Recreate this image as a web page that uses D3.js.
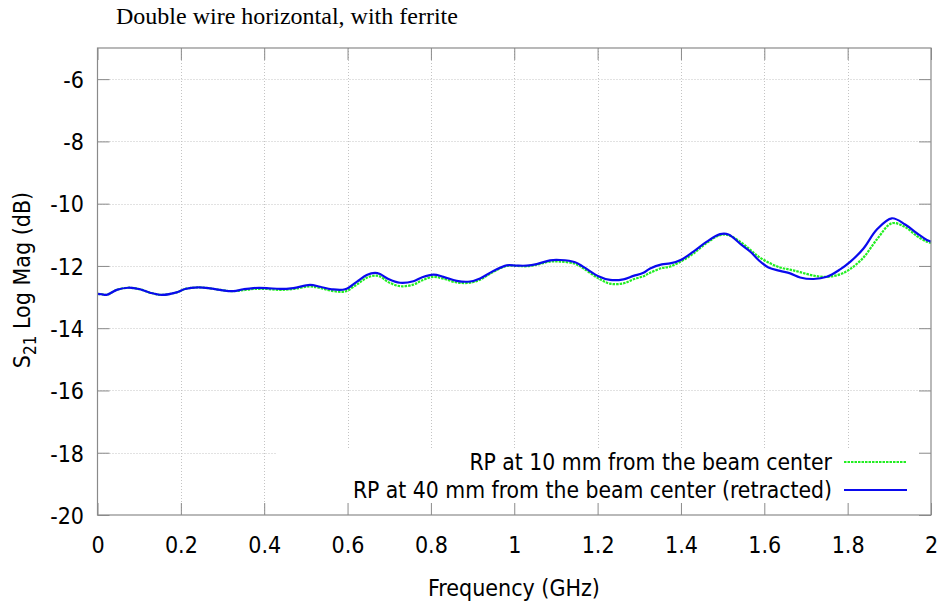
<!DOCTYPE html>
<html>
<head>
<meta charset="utf-8">
<script src="https://cdn.jsdelivr.net/npm/d3@7"></script>
<style>
  html, body { margin: 0; padding: 0; background: #fff; }
</style>
</head>
<body>
<svg id="chart" width="947" height="606" font-family="'DejaVu Sans Condensed', 'DejaVu Sans', sans-serif"></svg>
<script>
// Frequency points (GHz)
const freq = [0.000, 0.010, 0.022, 0.046, 0.074, 0.102, 0.126, 0.154, 0.190, 0.210,
  0.242, 0.270, 0.294, 0.326, 0.350, 0.374, 0.406, 0.438, 0.470, 0.510,
  0.534, 0.562, 0.594, 0.622, 0.646, 0.666, 0.678, 0.698, 0.726, 0.758,
  0.778, 0.806, 0.830, 0.862, 0.894, 0.918, 0.950, 0.982, 1.006, 1.030,
  1.054, 1.086, 1.110, 1.146, 1.166, 1.202, 1.230, 1.262, 1.286, 1.310,
  1.326, 1.354, 1.374, 1.402, 1.430, 1.462, 1.494, 1.514, 1.544, 1.568,
  1.586, 1.610, 1.638, 1.662, 1.686, 1.718, 1.750, 1.782, 1.806, 1.838,
  1.870, 1.906, 1.938, 1.966, 1.990, 2.000];

// S21 (dB), RP at 10 mm from the beam center
const s21At10mm = [-12.90, -12.91, -12.93, -12.77, -12.70, -12.75, -12.86, -12.93, -12.85, -12.74,
  -12.69, -12.72, -12.77, -12.81, -12.78, -12.74, -12.74, -12.77, -12.74, -12.66,
  -12.71, -12.80, -12.82, -12.60, -12.38, -12.31, -12.34, -12.52, -12.65, -12.60,
  -12.47, -12.35, -12.41, -12.53, -12.54, -12.44, -12.19, -12.00, -12.00, -12.01,
  -11.96, -11.86, -11.86, -11.93, -12.08, -12.40, -12.57, -12.56, -12.43, -12.33,
  -12.22, -12.07, -12.02, -11.84, -11.60, -11.26, -11.01, -11.01, -11.24, -11.50,
  -11.70, -11.89, -12.05, -12.12, -12.20, -12.31, -12.35, -12.27, -12.10, -11.73,
  -11.15, -10.63, -10.75, -11.04, -11.22, -11.26];

// S21 (dB), RP at 40 mm from the beam center (retracted)
const s21At40mm = [-12.90, -12.91, -12.93, -12.77, -12.70, -12.75, -12.86, -12.93, -12.85, -12.74,
  -12.69, -12.72, -12.77, -12.81, -12.75, -12.71, -12.71, -12.74, -12.71, -12.61,
  -12.67, -12.75, -12.75, -12.51, -12.29, -12.22, -12.26, -12.42, -12.54, -12.49,
  -12.37, -12.28, -12.35, -12.48, -12.50, -12.40, -12.16, -11.98, -11.99, -11.99,
  -11.94, -11.82, -11.81, -11.88, -12.03, -12.33, -12.45, -12.43, -12.32, -12.22,
  -12.08, -11.95, -11.92, -11.79, -11.54, -11.22, -10.98, -10.99, -11.31, -11.56,
  -11.81, -12.05, -12.16, -12.24, -12.37, -12.42, -12.35, -12.11, -11.87, -11.44,
  -10.83, -10.47, -10.67, -10.95, -11.17, -11.22];

const xTicks = [0, 0.2, 0.4, 0.6, 0.8, 1, 1.2, 1.4, 1.6, 1.8, 2];
const yTicks = [-20, -18, -16, -14, -12, -10, -8, -6];
const seriesNames = ["RP at 10 mm from the beam center",
                     "RP at 40 mm from the beam center (retracted)"];

const svg = d3.select("#chart");
const plotLeft = 97.5, plotRight = 931, plotTop = 48, plotBottom = 515;
const fontSize = 23;

const x = d3.scaleLinear().domain([0, 2]).range([plotLeft, plotRight]);
const y = d3.scaleLinear().domain([-20, -5]).range([plotBottom, plotTop]);

const borderColor = "#8a8a8a";
const gridColor = "#c4c4c4";
const fmt = d => String(d);   // plain hyphen for negatives

// Grid
const grid = svg.append("g");
grid.selectAll("line.gx").data(xTicks.slice(1, -1)).join("line")
  .attr("x1", d => Math.round(x(d)) + 0.5).attr("x2", d => Math.round(x(d)) + 0.5)
  .attr("y1", plotTop).attr("y2", plotBottom)
  .attr("stroke", gridColor).attr("stroke-width", 1).attr("stroke-dasharray", "1,2");
grid.selectAll("line.gy").data(yTicks.slice(1)).join("line")
  .attr("y1", d => Math.round(y(d)) + 0.5).attr("y2", d => Math.round(y(d)) + 0.5)
  .attr("x1", plotLeft).attr("x2", plotRight)
  .attr("stroke", gridColor).attr("stroke-width", 1).attr("stroke-dasharray", "1,2");

// Key background covers the grid in the lower right
svg.append("rect")
  .attr("x", 277).attr("y", 448).attr("width", plotRight - 277).attr("height", plotBottom - 448)
  .attr("fill", "#fff");

// Curves
const line = d3.line()
  .x((d, i) => x(freq[i]))
  .y(d => y(d))
  .curve(d3.curveCatmullRom.alpha(0.5));

svg.append("path").datum(s21At10mm)
  .attr("d", line).attr("fill", "none")
  .attr("stroke", "#22ee22").attr("stroke-width", 2.2)
  .attr("stroke-dasharray", "2.5,1");
svg.append("path").datum(s21At40mm)
  .attr("d", line).attr("fill", "none")
  .attr("stroke", "#0a0aee").attr("stroke-width", 2.2);

// Axes with mirrored inward ticks
const tickLen = 12;
const axB = d3.axisBottom(x).tickValues(xTicks).tickFormat(fmt)
  .tickSizeInner(-tickLen).tickSizeOuter(0).tickPadding(22);
const axL = d3.axisLeft(y).tickValues(yTicks).tickFormat(fmt)
  .tickSizeInner(-tickLen).tickSizeOuter(0).tickPadding(13.5);
const axT = d3.axisTop(x).tickValues(xTicks).tickFormat("")
  .tickSizeInner(-tickLen).tickSizeOuter(0);
const axR = d3.axisRight(y).tickValues(yTicks).tickFormat("")
  .tickSizeInner(-tickLen).tickSizeOuter(0);

function styleAxis(g) {
  g.attr("font-family", null).attr("font-size", null);
  g.select(".domain").remove();
  g.selectAll(".tick line").attr("stroke", borderColor).attr("stroke-width", 1);
  g.selectAll("text").attr("fill", "#000").attr("font-size", fontSize);
}
svg.append("g").attr("transform", `translate(0,${plotBottom})`).call(axB).call(styleAxis);
svg.append("g").attr("transform", `translate(${plotLeft},0)`).call(axL).call(styleAxis)
  .selectAll("text").attr("dy", "0.36em");
svg.append("g").attr("transform", `translate(0,${plotTop})`).call(axT).call(styleAxis);
svg.append("g").attr("transform", `translate(${plotRight},0)`).call(axR).call(styleAxis);

// Border
svg.append("rect")
  .attr("x", plotLeft).attr("y", plotTop).attr("width", plotRight - plotLeft).attr("height", plotBottom - plotTop)
  .attr("fill", "none").attr("stroke", borderColor).attr("stroke-width", 1.2);

// Key
const keyColors = ["#22ee22", "#0a0aee"];
const keyDash = ["2.5,1", null];
const keyY = [462, 490];
seriesNames.forEach((name, i) => {
  svg.append("text").attr("x", 832).attr("y", keyY[i]).attr("dy", "0.36em")
    .attr("text-anchor", "end").attr("font-size", 22.7).attr("fill", "#000").text(name);
  svg.append("line").attr("x1", 844).attr("x2", 907)
    .attr("y1", keyY[i]).attr("y2", keyY[i])
    .attr("stroke", keyColors[i]).attr("stroke-width", 2)
    .attr("stroke-dasharray", keyDash[i]);
});

// Axis titles
svg.append("text").attr("x", 514).attr("y", 596).attr("text-anchor", "middle")
  .attr("font-size", fontSize).attr("fill", "#000").text("Frequency (GHz)");

const yl = svg.append("text")
  .attr("transform", "translate(30,280) rotate(-90)")
  .attr("text-anchor", "middle").attr("font-size", fontSize).attr("fill", "#000");
yl.append("tspan").text("S");
yl.append("tspan").attr("font-size", 17).attr("dy", 6).text("21");
yl.append("tspan").attr("dy", -6).text(" Log Mag (dB)");

// Title
svg.append("text").attr("x", 116).attr("y", 24)
  .attr("font-family", "'Liberation Serif', 'Times New Roman', serif")
  .attr("font-size", 24).attr("fill", "#000")
  .text("Double wire horizontal, with ferrite");
</script>
</body>
</html>
